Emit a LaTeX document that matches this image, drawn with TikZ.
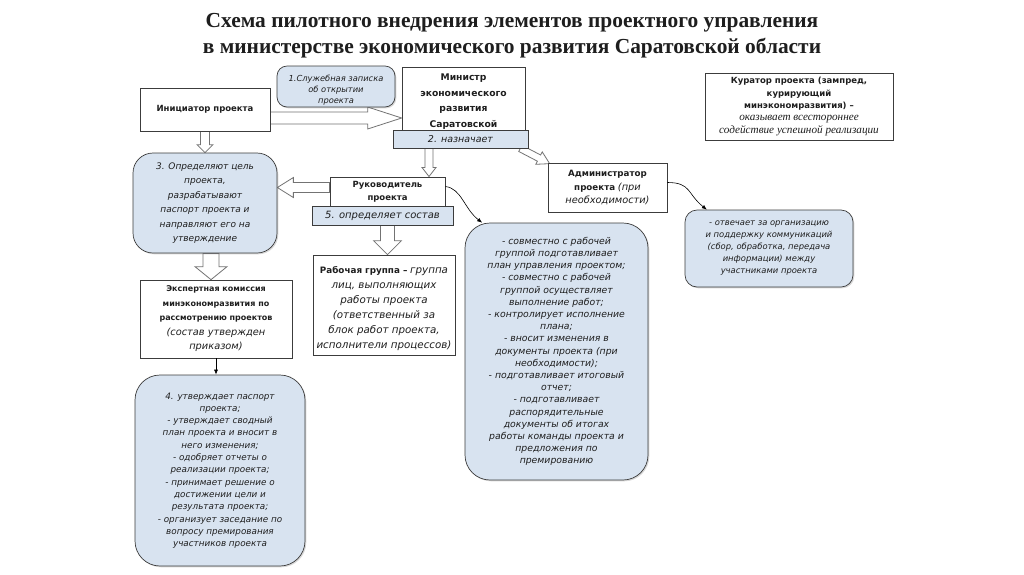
\documentclass[tikz,border=0pt]{standalone}
\usepackage{fontspec}
\setmainfont{DejaVu Sans}
\newfontfamily\titlefont{Liberation Serif}
\newfontfamily\serifit{Liberation Serif}
\usetikzlibrary{calc,arrows.meta,shadows}
\pgfdeclarelayer{back}
\pgfdeclarelayer{bg}
\pgfsetlayers{back,bg,main}
\definecolor{boxblue}{RGB}{216,227,240}
\definecolor{edge}{RGB}{60,60,60}
\definecolor{arredge}{RGB}{115,115,115}
\definecolor{txt}{RGB}{30,30,30}
\newcommand{\blockarrow}[5]{%
  \coordinate (ba-s) at (#1);
  \coordinate (ba-e) at (#2);
  \coordinate (ba-h) at ($(ba-e)!#5!(ba-s)$);
  \draw[blockarr] ($(ba-s)!#3!90:(ba-e)$) -- ($(ba-h)!#3!-90:(ba-s)$) -- ($(ba-h)!#4!-90:(ba-s)$) -- (ba-e) -- ($(ba-h)!#4!90:(ba-s)$) -- ($(ba-h)!#3!90:(ba-s)$) -- ($(ba-s)!#3!-90:(ba-e)$) -- cycle;
}
\tikzset{
  base/.style={inner sep=2pt, align=center, text=txt},
  shad/.style={drop shadow={shadow xshift=1.3pt, shadow yshift=-1.3pt, opacity=0.3, fill=gray}},
  rbox/.style={base, shad, draw=edge, line width=0.7pt, fill=white},
  bluebox/.style={base, shad, draw=edge, line width=0.7pt, fill=boxblue, rounded corners=#1},
  bluebox/.default=15pt,
  band/.style={base, draw=edge, line width=0.7pt, fill=boxblue},
  blockarr/.style={draw=arredge, fill=white, line width=0.8pt, line join=miter},
  thinarr/.style={draw=black, line width=0.6pt, -{Latex[length=5pt,width=4pt]}},
  itx/.style 2 args={font={\fontsize{#1}{#2}\selectfont\itshape}},
  bfx/.style 2 args={font={\fontsize{#1}{#2}\selectfont\bfseries}},
  smx/.style 2 args={font={\fontsize{#1}{#2}\selectfont}}
}
\newcommand{\fsz}[1]{\fontsize{#1}{12}\selectfont}
\begin{document}
\begin{tikzpicture}[x=1pt,y=-1pt]
\begin{pgfonlayer}{back}
\fill[white] (0,0) rectangle (1024,574);
\end{pgfonlayer}
\useasboundingbox (0,0) rectangle (1024,574);

\node[base, font={\titlefont\bfseries\fontsize{21.4}{26}\selectfont}] (title) at (512,36)
  {Схема пилотного внедрения элементов проектного управления\\в министерстве экономического развития Саратовской области};

\node[bluebox=10pt, minimum width=118pt, minimum height=41pt] (note1) at (336,86.5) {};
\node[base, itx={8.3}{11.3}] (note1t) at (note1) [yshift=-3.5pt]
  {1.Служебная записка\\об открытии\\проекта};
\node[rbox, minimum width=130pt, minimum height=43pt, bfx={8.5}{12}] (init) at (205,109.5) {Инициатор проекта};
\node[rbox, minimum width=123pt, minimum height=69pt, bfx={9.2}{15.5}] (minister) at (463.5,101.5)
  {Министр\\экономического\\развития\\Саратовской};
\node[band, minimum width=135pt, minimum height=18pt, itx={9.5}{11}] (band2) at (460.5,139) {2. назначает};

\node[rbox, minimum width=188pt, minimum height=67pt, smx={8.5}{12.3}] (kur) at (799,106.5)
  {\textbf{Куратор проекта (зампред,}\\\textbf{курирующий}\\\textbf{минэкономразвития) –}\\{\serifit\itshape\fontsize{11.2}{12.3}\selectfont оказывает всестороннее}\\{\serifit\itshape\fontsize{11.2}{12.3}\selectfont содействие успешной реализации}};

\node[rbox, minimum width=119pt, minimum height=49pt, smx={8.7}{13.5}] (admin) at (607.5,187.5)
  {\textbf{Администратор}\\\textbf{проекта} {\itshape\fsz{9.8}(при}\\{\itshape\fsz{9.8}необходимости)}};

\node[bluebox=20pt, minimum width=144pt, minimum height=100pt, itx={9}{14.5}] (box3) at (205,203)
  {3. Определяют цель\\проекта,\\разрабатывают\\паспорт проекта и\\направляют его на\\утверждение};

\node[rbox, line width=1pt, minimum width=115pt, minimum height=29pt, bfx={8.5}{13}] (ruk) at (387.5,191.5) {Руководитель\\проекта};
\node[band, minimum width=141pt, minimum height=19pt, itx={10}{11}] (band5) at (382.5,215.5) {5. определяет состав};

\node[rbox, minimum width=142pt, minimum height=100pt] (rg) at (384,305) {};
\node[base, smx={8.8}{15}] (rgt) at (rg) [yshift=-4pt]
  {\textbf{Рабочая группа –} {\itshape\fsz{10.3}группа}\\{\itshape\fsz{10.3}лиц, выполняющих}\\{\itshape\fsz{10.3}работы проекта}\\{\itshape\fsz{10.3}(ответственный за}\\{\itshape\fsz{10.3}блок работ проекта,}\\{\itshape\fsz{10.3}исполнители процессов)}};

\node[bluebox=25pt, minimum width=183pt, minimum height=257pt, itx={9.3}{12.2}] (mid) at (556.5,351.5)
  {- совместно с рабочей\\группой подготавливает\\план управления проектом;\\- совместно с рабочей\\группой осуществляет\\выполнение работ;\\- контролирует исполнение\\плана;\\- вносит изменения в\\документы проекта (при\\необходимости);\\- подготавливает итоговый\\отчет;\\- подготавливает\\распорядительные\\документы об итогах\\работы команды проекта и\\предложения по\\премированию};

\node[bluebox=12pt, minimum width=168pt, minimum height=77pt, itx={8.4}{12}] (right) at (769,248.5)
  {- отвечает за организацию\\и поддержку коммуникаций\\(сбор, обработка, передача\\информации) между\\участниками проекта};

\node[rbox, minimum width=152pt, minimum height=78pt, smx={8}{14.5}] (expert) at (216,319)
  {\textbf{Экспертная комиссия}\\\textbf{минэкономразвития по}\\\textbf{рассмотрению проектов}\\{\itshape\fsz{9.8}(состав утвержден}\\{\itshape\fsz{9.8}приказом)}};

\node[bluebox=25pt, minimum width=170pt, minimum height=191pt, itx={8.8}{12.3}] (box4) at (220,470.5)
  {4. утверждает паспорт\\проекта;\\- утверждает сводный\\план проекта и вносит в\\него изменения;\\- одобряет отчеты о\\реализации проекта;\\- принимает решение о\\достижении цели и\\результата проекта;\\- организует заседание по\\вопросу премирования\\участников проекта};

% block arrows
\coordinate (a1s) at ($(init.east)+(0,8.5)$);
\coordinate (a1e) at (a1s -| minister.west);
\coordinate (a3e) at ($(ruk.north)+(41.5,0)$);
\coordinate (a3s) at (a3e |- band2.south);
\coordinate (a4s) at ($(band2.south east)+(-8,0)$);
\coordinate (a4e) at ($(admin.north west)+(2,1)$);
\coordinate (a5s) at ($(ruk.west)+(0,-4)$);
\coordinate (a5e) at (a5s -| box3.east);
\coordinate (a6s) at ($(box3.south)+(6,0)$);
\coordinate (a6e) at (a6s |- expert.north);
\coordinate (a7s) at ($(band5.south)+(5,0)$);
\coordinate (a7e) at (a7s |- rg.north);
\begin{pgfonlayer}{bg}
\blockarrow{a1s}{a1e}{6pt}{11pt}{34pt}
\blockarrow{init.south}{box3.north}{4.5pt}{8pt}{8pt}
\blockarrow{a3s}{a3e}{4pt}{7pt}{9pt}
\blockarrow{a4s}{a4e}{3.5pt}{7pt}{12pt}
\blockarrow{a5s}{a5e}{5pt}{10pt}{16pt}
\blockarrow{a6s}{a6e}{8pt}{16pt}{13pt}
\blockarrow{a7s}{a7e}{7pt}{14pt}{14pt}
\end{pgfonlayer}

% thin arrows
\draw[thinarr] (expert.south) -- (expert.south |- box4.north);
\draw[thinarr] ($(ruk.east)+(0,-5)$) .. controls +(16,2) and +(-18,-14) .. (mid.120);
\draw[thinarr] ($(admin.east)+(0,-5)$) .. controls +(24,0) and +(-20,-16) .. (right.148);
\end{tikzpicture}
\end{document}
